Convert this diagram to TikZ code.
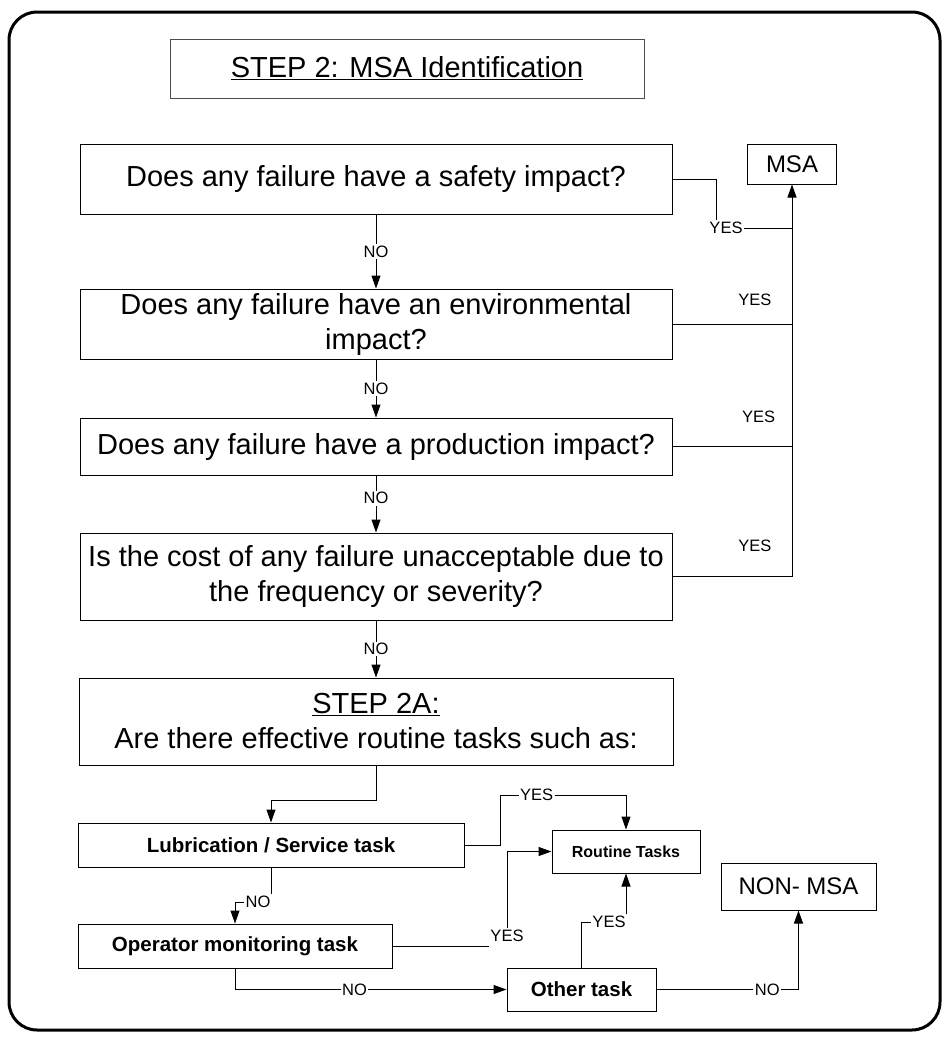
\documentclass[tikz,border=0pt]{standalone}
\usepackage{fontspec}
\setmainfont{Liberation Sans}
\usetikzlibrary{arrows.meta}

\newcommand{\bigtext}{\fontsize{29}{35}\selectfont}
\newcommand{\midtext}{\fontsize{24}{28}\selectfont}
\newcommand{\tasktext}{\fontsize{20.5}{24}\selectfont\bfseries}
\newcommand{\lbltext}{\fontsize{16.5}{19}\selectfont}

\begin{document}
\begin{tikzpicture}[
        x=1pt, y=-1pt,
        qbox/.style={draw, line width=1pt, rectangle, align=center, inner sep=0pt, font=\bigtext}, % question boxes
        endbox/.style={draw, line width=1pt, rectangle, align=center, inner sep=0pt, font=\midtext},
        taskbox/.style={draw, line width=1pt, rectangle, align=center, inner sep=0pt, font=\tasktext},
        lbl/.style={fill=white, inner sep=1.5pt, font=\lbltext}, % YES / NO labels
        link/.style={line width=1pt},
        arrow style/.style={-{Triangle[length=13pt,width=9pt]}, line width=1pt}
    ]
    \useasboundingbox (0,0) rectangle (944,1037);
    \draw[line width=3pt, rounded corners=28pt] (9,12) rectangle (940,1030);

    \node[qbox, draw=black!70, line width=0.7pt, minimum width=474pt, minimum height=59pt] (title) at (407,68.5) {\underline{STEP 2: MSA Identification}};

    \node[qbox, minimum width=592pt, minimum height=70pt] (safety) at (376,179) {Does any failure have a safety impact?};
    \node[endbox, minimum width=89pt, minimum height=40pt] (msa) at (792,164) {MSA};
    \node[qbox, minimum width=592pt, minimum height=70pt] (env) at (376,324) {Does any failure have an environmental\\impact?};
    \node[qbox, minimum width=592pt, minimum height=57pt] (prod) at (376,446.5) {Does any failure have a production impact?};
    \node[qbox, minimum width=592pt, minimum height=87pt] (cost) at (376,576.5) {Is the cost of any failure unacceptable due to\\the frequency or severity?};
    \node[qbox, minimum width=594pt, minimum height=87pt] (step2a) at (376,721.5) {\underline{STEP 2A:}\\Are there effective routine tasks such as:};

    \node[taskbox, minimum width=386pt, minimum height=44pt] (lub) at (271,845) {Lubrication / Service task};
    \node[taskbox, font=\fontsize{16}{19}\selectfont\bfseries, minimum width=148pt, minimum height=43pt] (routine) at (626,851.5) {Routine Tasks};
    \node[taskbox, minimum width=314pt, minimum height=44pt] (op) at (235,946) {Operator monitoring task};
    \node[taskbox, minimum width=149pt, minimum height=43pt] (other) at (581.5,989.5) {Other task};
    \node[endbox, minimum width=155pt, minimum height=47pt] (nonmsa) at (798.5,886.5) {NON- MSA};

    % NO chain
    \draw[arrow style] (safety) -- node[lbl] {NO} (env);
    \draw[arrow style] (env) -- node[lbl] {NO} (prod);
    \draw[arrow style] (prod) -- node[lbl, pos=0.4] {NO} (cost);
    \draw[arrow style] (cost) -- node[lbl] {NO} (step2a);

    % YES bus to MSA
    \node[lbl, fill=none] (yes1) at (726,228) {YES};
    \draw[link] (safety.east) -| ([xshift=-10pt]yes1.north);
    \draw[link] (yes1.east) -- (yes1.east -| msa.south);
    \draw[link] (env.east) -- node[lbl, fill=none, pos=0.69, yshift=24pt] {YES} (env.east -| msa.south);
    \draw[link] (prod.east) -- node[lbl, fill=none, pos=0.72, yshift=30pt] {YES} (prod.east -| msa.south);
    \draw[arrow style] (cost.east) -| node[lbl, fill=none, pos=0.345, yshift=31pt] {YES} (msa.south);

    % step 2A tasks
    \draw[arrow style] (step2a.south) -- ++(0,35) -| (lub.north);
    \coordinate (bend5) at (500,795);
    \draw[arrow style] (lub.east) -| (bend5) -- node[lbl, pos=0.29] {YES} (bend5 -| routine.north) -- (routine.north);

    \node[lbl, fill=none] (no5) at (258,902) {NO};
    \draw[link] (lub.south) -- (lub.south |- no5.north);
    \draw[arrow style] (no5.west) -| (op.north);

    \node[lbl, fill=none] (yes6) at (507,936) {YES};
    \draw[link] (op.east) -- (op.east -| yes6.west);
    \draw[arrow style] (yes6.north) |- (routine.west);

    \draw[arrow style] (op.south) |- node[lbl, pos=0.72] {NO} (other.west);

    \node[lbl, fill=none] (yes8) at (609,922) {YES};
    \draw[link] (other.north) |- (yes8.west);
    \draw[arrow style] (yes8.north -| routine.south) -- (routine.south);

    \draw[arrow style] (other.east) -| node[lbl, pos=0.39] {NO} (nonmsa.south);
\end{tikzpicture}
\end{document}
